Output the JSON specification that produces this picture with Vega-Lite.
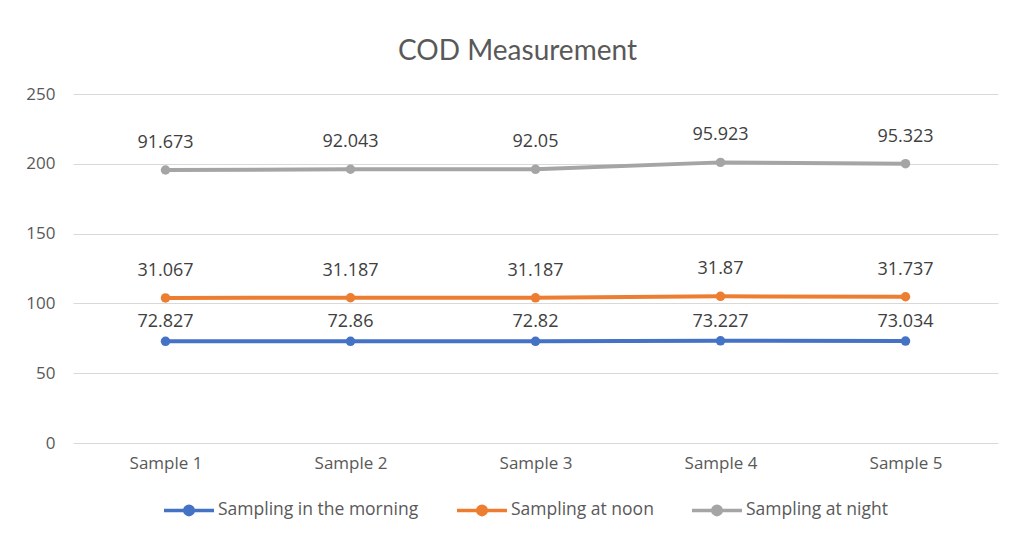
{
  "$schema": "https://vega.github.io/schema/vega-lite/v6.json",
  "autosize": {"type": "none"},
  "width": 925,
  "height": 349,
  "padding": {"left": 73, "top": 94, "right": 14, "bottom": 94},
  "background": "white",
  "config": {"view": {"stroke": null}},
  "title": {
    "text": "COD Measurement",
    "font": "Lato",
    "fontSize": 28,
    "fontWeight": "normal",
    "color": "#595959",
    "anchor": "middle",
    "offset": 19,
    "dx": -18
  },
  "data": {
    "values": [
      {"sample": "Sample 1", "series": "Sampling in the morning", "k": 1, "value": 72.827},
      {"sample": "Sample 2", "series": "Sampling in the morning", "k": 1, "value": 72.86},
      {"sample": "Sample 3", "series": "Sampling in the morning", "k": 1, "value": 72.82},
      {"sample": "Sample 4", "series": "Sampling in the morning", "k": 1, "value": 73.227},
      {"sample": "Sample 5", "series": "Sampling in the morning", "k": 1, "value": 73.034},
      {"sample": "Sample 1", "series": "Sampling at noon", "k": 2, "value": 31.067},
      {"sample": "Sample 2", "series": "Sampling at noon", "k": 2, "value": 31.187},
      {"sample": "Sample 3", "series": "Sampling at noon", "k": 2, "value": 31.187},
      {"sample": "Sample 4", "series": "Sampling at noon", "k": 2, "value": 31.87},
      {"sample": "Sample 5", "series": "Sampling at noon", "k": 2, "value": 31.737},
      {"sample": "Sample 1", "series": "Sampling at night", "k": 3, "value": 91.673},
      {"sample": "Sample 2", "series": "Sampling at night", "k": 3, "value": 92.043},
      {"sample": "Sample 3", "series": "Sampling at night", "k": 3, "value": 92.05},
      {"sample": "Sample 4", "series": "Sampling at night", "k": 3, "value": 95.923},
      {"sample": "Sample 5", "series": "Sampling at night", "k": 3, "value": 95.323}
    ]
  },
  "encoding": {
    "x": {
      "field": "sample",
      "type": "nominal",
      "scale": {"type": "point", "padding": 0.5},
      "axis": {
        "title": null,
        "labelAngle": 0,
        "domain": false,
        "ticks": false,
        "grid": false,
        "labelPadding": 12,
        "labelFont": "Open Sans",
        "labelFontSize": 17,
        "labelColor": "#595959"
      }
    }
  },
  "layer": [
    {
      "mark": {"type": "line", "strokeWidth": 4, "point": {"filled": true, "size": 90}},
      "encoding": {
        "y": {
          "field": "value",
          "type": "quantitative",
          "stack": "zero",
          "scale": {"domain": [0, 250], "nice": false},
          "axis": {
            "title": null,
            "values": [0, 50, 100, 150, 200, 250],
            "domain": false,
            "ticks": false,
            "gridColor": "#d9d9d9",
            "gridWidth": 1,
            "labelPadding": 18,
            "labelFont": "Open Sans",
            "labelFontSize": 17,
            "labelColor": "#595959"
          }
        },
        "order": {"field": "k", "type": "quantitative"},
        "color": {
          "field": "series",
          "type": "nominal",
          "sort": ["Sampling in the morning", "Sampling at noon", "Sampling at night"],
          "scale": {
            "domain": ["Sampling in the morning", "Sampling at noon", "Sampling at night"],
            "range": ["#4472C4", "#ED7D31", "#A5A5A5"]
          },
          "legend": {
            "title": null,
            "orient": "none",
            "legendX": 89,
            "legendY": 389,
            "direction": "horizontal",
            "symbolType": "M-1,0H1M0.17,0A0.17,0.17 0 1 1 -0.17,0A0.17,0.17 0 1 1 0.17,0",
            "symbolSize": 2500,
            "symbolStrokeWidth": 3.5,
            "labelFont": "Open Sans",
            "labelFontSize": 17.5,
            "labelColor": "#595959",
            "labelLimit": 400,
            "columnPadding": 31,
            "labelOffset": 2
          }
        }
      }
    },
    {
      "transform": [
        {"stack": "value", "groupby": ["sample"], "sort": [{"field": "k"}], "as": ["v0", "v1"]},
        {"filter": "datum.k == 1"}
      ],
      "mark": {"type": "text", "dy": -19, "font": "Open Sans", "fontSize": 18, "color": "#404040"},
      "encoding": {
        "y": {"field": "v1", "type": "quantitative"},
        "text": {"field": "value", "type": "quantitative"}
      }
    },
    {
      "transform": [
        {"stack": "value", "groupby": ["sample"], "sort": [{"field": "k"}], "as": ["v0", "v1"]},
        {"filter": "datum.k != 1"}
      ],
      "mark": {"type": "text", "dy": -27, "font": "Open Sans", "fontSize": 18, "color": "#404040"},
      "encoding": {
        "y": {"field": "v1", "type": "quantitative"},
        "text": {"field": "value", "type": "quantitative"}
      }
    }
  ]
}
